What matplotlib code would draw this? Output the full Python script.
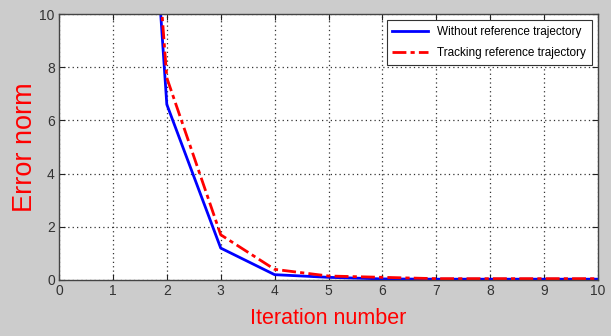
import matplotlib
matplotlib.use("Agg")
import matplotlib.pyplot as plt
from matplotlib import font_manager

# data
iterations = [1, 2, 3, 4, 5, 6, 7, 8, 9, 10]
without_ref = [36.6, 6.6, 1.2, 0.2, 0.1, 0.04, 0.03, 0.03, 0.03, 0.03]
tracking_ref = [34.6, 7.6, 1.7, 0.4, 0.15, 0.1, 0.05, 0.05, 0.05, 0.05]
xticks = list(range(0, 11))
yticks = [0, 2, 4, 6, 8, 10]

names = {f.name for f in font_manager.fontManager.ttflist}
narrow = "Liberation Sans Narrow" if "Liberation Sans Narrow" in names else "Liberation Sans"
plt.rcParams["font.family"] = [narrow, "DejaVu Sans"]

fig = plt.figure(figsize=(6.11, 3.36), dpi=100)
fig.patch.set_facecolor("#cccccc")
ax = fig.add_axes([0.0966, 0.1667, 0.8821, 0.7916])
ax.set_facecolor("white")

ax.plot(iterations, without_ref, color="#0000ff", lw=2.0,
        label="Without reference trajectory")
ax.plot(iterations, tracking_ref, color="#ff0000", lw=2.0,
        linestyle=(0, (5, 1.5, 1.5, 1.5)),
        label="Tracking reference trajectory")

ax.set_xlim(0, 10)
ax.set_ylim(0, 10)
ax.set_xticks(xticks)
ax.set_yticks(yticks)
ax.tick_params(direction="in", top=True, right=True, length=4,
               labelsize=10, colors="#222222", pad=3)
for lab in ax.get_xticklabels() + ax.get_yticklabels():
    lab.set_color("#333333")
ax.grid(True, color="#333333", linestyle=(0, (1, 2.5)), lw=0.9)
for s in ax.spines.values():
    s.set_color("#444444")
    s.set_linewidth(1.0)

ax.set_xlabel("Iteration number", color="#ff0000", fontsize=15.5, labelpad=7)
ax.set_ylabel("Error norm", color="#ff0000", fontsize=19.5, labelpad=1)

leg = ax.legend(loc="upper right", fontsize=8.5, fancybox=False,
                framealpha=1, edgecolor="#333333", handlelength=3.0,
                borderaxespad=0.5, labelspacing=0.8, borderpad=0.5)
leg.get_frame().set_linewidth(0.8)

fig.savefig("out.png", dpi=100, facecolor=fig.get_facecolor())
